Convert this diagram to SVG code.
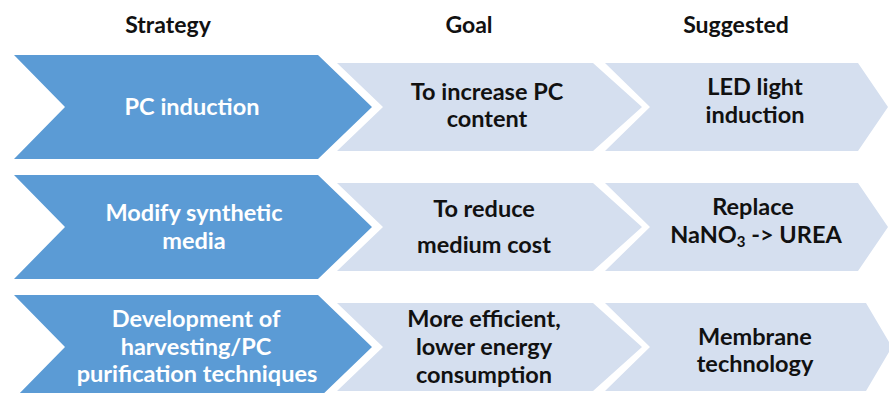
<svg xmlns="http://www.w3.org/2000/svg" width="889" height="393" viewBox="0 0 889 393">
<style>
.blue{fill:#5B9BD5}
.light{fill:#D5DFEF}
text{font-family:Lato,"Liberation Sans",sans-serif;font-weight:bold;text-anchor:middle}
.hdr{font-size:23px;fill:#111}
.w{font-size:23.5px;fill:#FFFFFF}
.k{font-size:23.5px;fill:#111}
</style>
<rect width="889" height="393" fill="#FFFFFF"/>
<g id="headers">
<text class="hdr" x="168" y="33">Strategy</text>
<text class="hdr" x="469" y="33">Goal</text>
<text class="hdr" x="736" y="33">Suggested</text>
</g>
<g id="connectors"></g>
<g id="row1-strategy">
<polygon class="blue" points="14,55 318,55 372,107 318,159 14,159 65,107"/>
<text class="w" x="192" y="115">PC induction</text>
</g>
<g id="row1-goal">
<polygon class="light" points="337,63 593,63 642,107 593,151 337,151 383,107"/>
<text class="k" x="487" y="100">To increase PC</text>
<text class="k" x="487" y="127">content</text>
</g>
<g id="row1-suggested">
<polygon class="light" points="605,63 858,63 888,107 858,151 605,151 650,107"/>
<text class="k" x="755" y="95">LED light</text>
<text class="k" x="755" y="123">induction</text>
</g>
<g id="row2-strategy">
<polygon class="blue" points="14,175 318,175 372,227 318,279 14,279 65,227"/>
<text class="w" x="194" y="221">Modify synthetic</text>
<text class="w" x="194" y="249">media</text>
</g>
<g id="row2-goal">
<polygon class="light" points="337,183 593,183 642,227 593,271 337,271 383,227"/>
<text class="k" x="484" y="217">To reduce</text>
<text class="k" x="484" y="253">medium cost</text>
</g>
<g id="row2-suggested">
<polygon class="light" points="605,183 858,183 888,227 858,271 605,271 650,227"/>
<text class="k" x="753" y="215">Replace</text>
<text class="k" x="756" y="243">NaNO<tspan font-size="15" dy="4">3</tspan><tspan dy="-4"> -&gt; UREA</tspan></text>
</g>
<g id="row3-strategy">
<polygon class="blue" points="14,295 318,295 372,347 318,399 14,399 65,347"/>
<text class="w" x="196" y="327">Development of</text>
<text class="w" x="196" y="355">harvesting/PC</text>
<text class="w" x="197" y="382">purification techniques</text>
</g>
<g id="row3-goal">
<polygon class="light" points="337,303 593,303 642,347 593,391 337,391 383,347"/>
<text class="k" x="484" y="327">More efficient,</text>
<text class="k" x="484" y="355">lower energy</text>
<text class="k" x="484" y="383">consumption</text>
</g>
<g id="row3-suggested">
<polygon class="light" points="605,303 866,303 892,347 866,391 605,391 650,347"/>
<text class="k" x="755" y="345">Membrane</text>
<text class="k" x="755" y="372">technology</text>
</g>
</svg>
